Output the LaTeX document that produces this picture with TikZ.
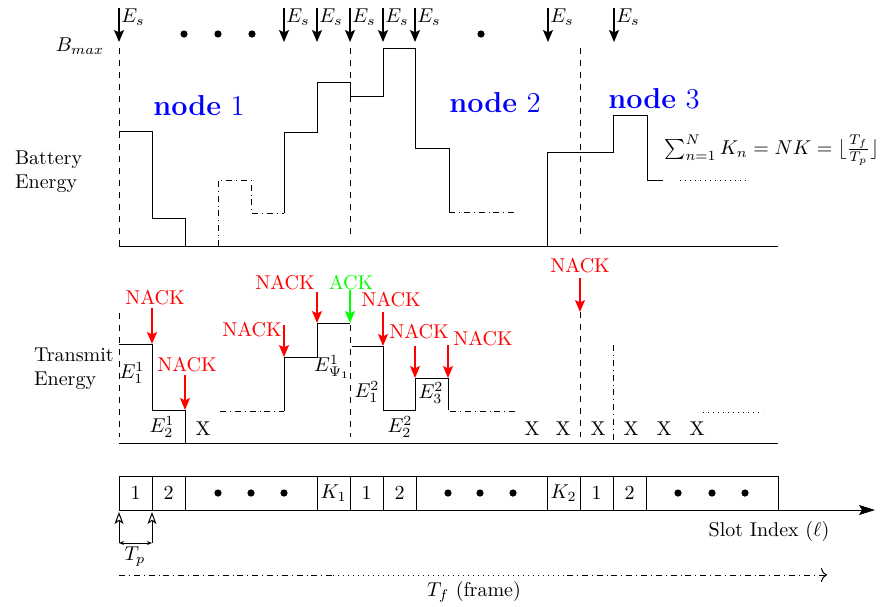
\documentclass[tikz,border=0pt]{standalone}
\usetikzlibrary{arrows.meta}

\begin{document}
\begin{tikzpicture}[
  x=0.5pt, y=-0.5pt,
  stair/.style   = {line width=0.5pt},
  sep/.style     = {dashed, line width=0.5pt},
  gap/.style     = {dashdotted, line width=0.5pt},
  more/.style    = {dotted, line width=0.5pt},
  esarr/.style   = {-{Stealth[length=6pt, width=5pt, inset=1.2pt]}, line width=0.6pt},
  nack/.style    = {-{Stealth[length=6pt, width=5pt, inset=1.2pt]}, draw=red, line width=0.6pt},
  ack/.style     = {-{Stealth[length=6pt, width=5pt, inset=1.2pt]}, draw=green, line width=0.6pt},
  nacklbl/.style = {text=red, inner sep=1pt},
  acklbl/.style  = {text=green, inner sep=1pt},
  nodelbl/.style = {text=blue, font=\Large, inner sep=1pt},
  elbl/.style    = {inner sep=1pt},
  bigdot/.style  = {circle, fill, inner sep=0pt, minimum size=3.6pt},
]
\useasboundingbox (0,0) rectangle (882,606);

% --- energy arrivals on top ------------------------------------------------------------------------
\foreach \x [count=\i] in {119,284,317,350,383,415,548,614} {
  \coordinate (est\i) at (\x,8);
  \coordinate (esb\i) at (\x,42);
  \draw[esarr] (est\i) -- (esb\i);
  \node[elbl, anchor=west] (esl\i) at (\x,17) {$E_s$};
}
\foreach \x [count=\i] in {184,218,252,481}
  \node[bigdot] (td\i) at (\x,34) {};
\node (bmax) at (80,46) {$B_{max}$};

% --- battery energy --------------------------------------------------------------------------------
\node[anchor=west, align=left] (batt) at (8,172) {Battery\\Energy};
\draw[stair] (119,246) -- (778,246);
\draw[sep] (119,48) -- (119,246);
\draw[sep] (350,48) -- (350,240);
\draw[sep] (580,48) -- (580,240);

\draw[stair] (119,131) -- (152,131) -- (152,218) -- (185,218) -- (185,246);
\draw[gap]   (218,246) -- (218,180) -- (251,180) -- (251,213) -- (284,213);
\draw[stair] (284,213) -- (284,132) -- (317,132) -- (317,82) -- (350,82) -- (350,96)
  -- (383,96) -- (383,48) -- (415,48) -- (415,148) -- (449,148) -- (449,212);
\draw[gap]   (449,212) -- (517,212);
\draw[stair] (547,246) -- (547,152) -- (613,152) -- (613,115) -- (647,115) -- (647,180) -- (663,180);
\draw[more]  (680,180) -- (748,180);

\node[nodelbl] (n1) at (199,106) {\textbf{node} $1$};
\node[nodelbl] (n2) at (495,103) {\textbf{node} $2$};
\node[nodelbl] (n3) at (654,99)  {\textbf{node} $3$};
\node[anchor=west, inner sep=1pt] (sumk) at (662,150)
  {$\sum_{n=1}^N K_n = NK = \lfloor\frac{T_f}{T_p}\rfloor$};

% --- transmit energy -------------------------------------------------------------------------------
\node[anchor=west, align=left] (trans) at (27,369) {Transmit\\Energy};
\draw[stair] (119,443) -- (778,443);
\draw[sep] (119,313) -- (119,437);
\draw[sep] (350,325) -- (350,437);
\draw[sep] (580,312) -- (580,437);
\draw[gap] (613,345) -- (613,440);

\draw[stair] (119,344) -- (152,344) -- (152,410) -- (185,410) -- (185,443);
\draw[gap]   (220,411) -- (284,411);
\draw[stair] (284,411) -- (284,357) -- (317,357) -- (317,323) -- (350,323);
\draw[stair] (352,346) -- (383,346) -- (383,410) -- (415,410) -- (415,378) -- (448,378) -- (448,410);
\draw[gap]   (450,411) -- (517,411);
\draw[more]  (703,412) -- (763,412);

% feedback per slot: x / top of arrow / tip / label x / label y
\foreach \x/\t/\b/\lx/\ly [count=\i] in {152/308/344/155/298, 185/375/410/187/365,
    284/325/357/252/330, 317/292/323/285/283, 383/312/346/391/300,
    415/346/378/419/332, 448/345/378/483/339, 580/278/312/580/266} {
  \coordinate (nt\i) at (\x,\t);
  \coordinate (nb\i) at (\x,\b);
  \draw[nack] (nt\i) -- (nb\i);
  \node[nacklbl] (nl\i) at (\lx,\ly) {NACK};
}
\coordinate (at1) at (350,290);
\coordinate (ab1) at (350,323);
\draw[ack] (at1) -- (ab1);
\node[acklbl] (al1) at (351,283) {ACK};

\node[elbl] (e11) at (132,373) {$E_1^1$};
\node[elbl] (e21) at (162,427) {$E_2^1$};
\node[elbl] (ep1) at (332,367) {$E_{\Psi_1}^1$};
\node[elbl] (e12) at (367,392) {$E_1^2$};
\node[elbl] (e22) at (400,427) {$E_2^2$};
\node[elbl] (e32) at (431,393) {$E_3^2$};
\foreach \x [count=\i] in {203,532,563,598,631,664,697}
  \node[elbl] (x\i) at (\x,429) {X};

% --- slots -----------------------------------------------------------------------------------------
\foreach \a/\b/\s [count=\i] in {119/152/1, 152/185/2, 185/317/, 317/350/$K_1$, 350/383/1,
    383/416/2, 416/547/, 547/580/$K_2$, 580/613/1, 613/646/2, 646/778/} {
  \draw[stair] (\a,476) rectangle (\b,510);
  \node[elbl] (c\i) at ({(\a+\b)/2},493) {\s};
}
\foreach \x [count=\i] in {218,251,284,448,480,513,678,712,745}
  \node[bigdot] (sd\i) at (\x,493) {};

\coordinate (ax0) at (119,510);
\coordinate (ax1) at (875,510);
\draw[-{Stealth[length=8pt, width=5pt, inset=1.5pt]}, line width=0.5pt] (ax0) -- (ax1);
\node (slot) at (769,531) {Slot Index ($\ell$)};

% --- slot length and frame length ------------------------------------------------------------------
\coordinate (tp0) at (119,543);
\coordinate (tp1) at (152,543);
\coordinate (tq0) at (119,512);
\coordinate (tq1) at (152,512);
\draw[-{Stealth[open, length=6pt, width=4.5pt, inset=1.5pt]}, line width=0.5pt] (tp0) -- (tq0);
\draw[-{Stealth[open, length=6pt, width=4.5pt, inset=1.5pt]}, line width=0.5pt] (tp1) -- (tq1);
\draw[{Stealth[open, length=2.5pt, width=2pt]}-{Stealth[open, length=2.5pt, width=2pt]}, line width=0.5pt]
  (tp0) -- (tp1);
\node (tp) at (135,557) {$T_p$};

\coordinate (tf0) at (119,575);
\coordinate (tf1) at (333,575);
\coordinate (tf2) at (567,575);
\coordinate (tf3) at (827,575);
\draw[gap] (tf0) -- (tf1);
\draw[more] (tf1) -- (tf2);
\draw[gap, -{To[length=3pt, width=7pt]}] (tf2) -- (tf3);
\node (tf) at (474,592) {$T_f$ (frame)};

\end{tikzpicture}
\end{document}
